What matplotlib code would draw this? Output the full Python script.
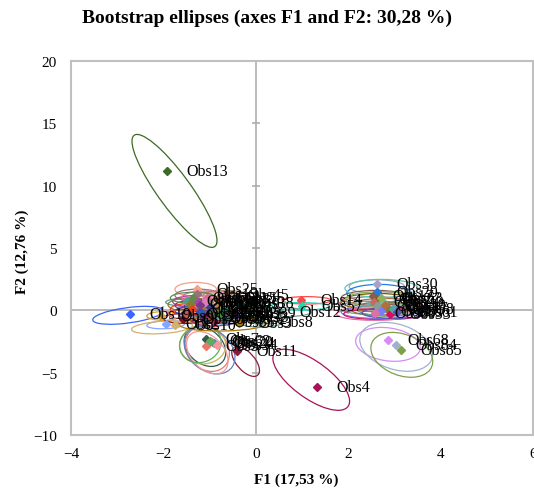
import numpy as np
import matplotlib.pyplot as plt
from matplotlib.patches import Ellipse

plt.rcParams['font.family'] = ['Liberation Serif', 'DejaVu Serif']

# observations: marker position
obs = ['Obs13', 'Obs4', 'Obs68', 'Obs84', 'Obs85', 'Obs11',
       'Obs7', 'Obs5', 'Obs70', 'Obs24', 'Obs34', 'Obs62',
       'Obs19', 'Obs2', 'Obs10', 'Obs9',
       'Obs25', 'Obs15', 'Obs16', 'Obs18', 'Obs21', 'Obs22', 'Obs23', 'Obs26',
       'Obs28', 'Obs31', 'Obs32', 'Obs33', 'Obs35', 'Obs36', 'Obs38', 'Obs39',
       'Obs41', 'Obs42', 'Obs43', 'Obs45',
       'Obs46', 'Obs48', 'Obs49', 'Obs51', 'Obs52', 'Obs54', 'Obs55', 'Obs56',
       'Obs3', 'Obs12', 'Obs8', 'Obs14', 'Obs57',
       'Obs30', 'Obs20', 'Obs17', 'Obs27', 'Obs37', 'Obs40', 'Obs44', 'Obs47',
       'Obs50', 'Obs53', 'Obs58', 'Obs59', 'Obs60', 'Obs61', 'Obs63']
f1 = [-1.93, 1.32, 2.86, 3.03, 3.14, -0.41,
      -1.08, -1.08, -0.95, -0.90, -0.85, -1.00,
      -2.73, -1.95, -1.75, -2.05,
      -1.28, -1.27, -1.49, -1.26, -1.43, -1.39, -1.15, -1.58,
      -1.00, -0.85, -0.70, -0.60, -0.90, -1.20, -0.50, -0.45,
      -1.05, -0.75, -1.50, -0.60,
      -1.10, -0.95, -0.80, -1.20, -0.65, -1.00, -0.70, -1.35,
      -0.37, 0.52, 0.10, 0.97, 0.99,
      2.62, 2.62, 2.53, 2.66, 2.55, 2.75, 2.62, 2.84,
      2.70, 2.90, 2.96, 2.80, 2.58, 3.05, 2.72]
f2 = [11.15, -6.17, -2.40, -2.80, -3.20, -3.30,
      -2.30, -2.85, -2.55, -2.65, -2.75, -2.45,
      -0.30, -1.10, -1.20, -0.45,
      1.68, 1.28, 0.72, 0.64, 0.48, 0.08, -0.48, -0.72,
      0.30, 0.90, 0.20, -0.50, -0.90, -0.10, 0.60, -0.20,
      1.00, -0.30, -0.30, 1.20,
      0.70, -0.20, 0.50, 0.40, -0.70, -0.60, 0.95, 1.00,
      -1.05, -0.16, -0.95, 0.80, 0.32,
      2.08, 1.44, 1.12, 0.88, 0.64, 0.64, 0.32, 0.16,
      -0.08, -0.32, 0.08, 0.45, -0.25, -0.15, 0.95]

# bootstrap ellipses: centre, half extents and correlation
ell_x = [-1.76, 1.20, 2.86, 3.04, 3.16, -0.22,
         -1.10, -1.05, -1.15, -1.00, -1.05, -1.20,
         -2.77, -1.95, -2.03, -2.00,
         -1.30, -1.25, -1.55, -1.25, -1.40, -1.40, -1.10, -1.55,
         -0.95, -0.85, -0.50, -0.60, -0.90, -1.20, -0.50, -0.45,
         -1.05, -0.75, -1.50, -0.65,
         -1.10, -0.95, -0.80, -1.20, -0.65, -1.00, -0.70, -1.35,
         -0.71, 0.30, 0.10, 1.10, 0.95,
         2.62, 2.67, 2.60, 2.65, 2.55, 2.72, 2.60, 2.80,
         2.65, 2.75, 2.90, 2.78, 2.55, 3.00, 2.70]
ell_y = [9.58, -5.57, -2.73, -2.93, -3.57, -4.10,
         -2.90, -3.10, -2.80, -3.20, -3.40, -2.70,
         -0.40, -1.15, -1.37, -0.45,
         1.68, 1.20, 0.65, 0.70, 0.45, 0.10, -0.40, -0.65,
         0.30, 0.95, 0.15, -0.45, -0.80, -0.05, 0.55, -0.20,
         1.05, -0.30, -0.30, 1.15,
         0.70, -0.20, 0.50, 0.40, -0.70, -0.60, 0.95, 1.00,
         -1.10, -0.16, -0.90, 0.80, 0.32,
         1.90, 1.36, 1.00, 0.70, 0.50, 1.76, 0.20, 0.10,
         -0.15, -0.30, 0.05, 0.40, -0.30, -0.20, 0.90]
ell_sx = [0.92, 0.83, 0.70, 0.79, 0.67, 0.30,
          0.45, 0.48, 0.50, 0.55, 0.45, 0.45,
          0.76, 0.41, 0.66, 0.36,
          0.45, 0.50, 0.40, 0.55, 0.50, 0.45, 0.55, 0.45,
          0.60, 0.55, 0.80, 0.50, 0.50, 0.55, 0.50, 0.45,
          0.55, 0.50, 0.40, 0.50,
          0.50, 0.45, 0.50, 0.55, 0.45, 0.50, 0.45, 0.50,
          0.94, 0.90, 0.50, 0.53, 0.65,
          0.60, 0.70, 0.75, 0.80, 0.75, 0.79, 0.80, 0.75,
          0.80, 0.85, 0.70, 0.75, 0.80, 0.70, 0.75]
ell_sy = [4.53, 2.45, 1.36, 1.96, 1.80, 1.20,
          1.60, 1.80, 1.50, 1.90, 1.70, 1.50,
          0.72, 0.33, 0.52, 0.35,
          0.56, 0.50, 0.30, 0.50, 0.55, 0.45, 0.50, 0.40,
          0.50, 0.55, 0.35, 0.45, 0.45, 0.40, 0.50, 0.45,
          0.50, 0.40, 0.40, 0.45,
          0.45, 0.40, 0.50, 0.45, 0.40, 0.45, 0.50, 0.45,
          0.56, 0.40, 0.45, 0.30, 0.30,
          0.55, 0.72, 0.60, 0.65, 0.60, 0.72, 0.55, 0.55,
          0.50, 0.45, 0.50, 0.55, 0.50, 0.45, 0.60]
ell_r = [-0.88, -0.70, -0.20, -0.30, -0.30, -0.60,
         -0.30, -0.20, 0.00, -0.30, -0.40, 0.10,
         0.50, 0.20, 0.30, 0.00,
         0, 0, 0, 0, 0, 0, 0, 0,
         0, 0, 0, 0, 0, 0, 0, 0,
         0, 0, 0, 0,
         0, 0, 0, 0, 0, 0, 0, 0,
         0.10, 0, 0, 0, 0,
         0, 0, 0, 0, 0, 0, 0, 0,
         0, 0, 0, 0, 0, 0, 0]
colors = ['#3d6b25', '#a8125a', '#d88cf4', '#9fb3c8', '#7ea04a', '#8c1a36',
          '#34594a', '#e8786a', '#c8b850', '#5f80c8', '#f09aa0', '#5cae5c',
          '#3a66ff', '#86a6ff', '#d4b070', '#d8a030',
          '#f4a08a', '#9c6f80', '#4fa088', '#b03cb0', '#8a7a30', '#e8401c', '#5a1e5a', '#8b0a14',
          '#3c3c90', '#c8762e', '#2aa8a0', '#6e4a2a', '#b8305e', '#3456a8', '#6a7a1e', '#8e5ec8',
          '#d86896', '#3e8a3e', '#c85858', '#a88a6a',
          '#e07cb4', '#4a6a5a', '#b88a2a', '#7a3a8a', '#2a6ea0', '#a04040', '#e0a0b0', '#608a4a',
          '#a6780e', '#7f9c94', '#6aa08a', '#ff4a4a', '#22d6b4',
          '#a9a2c2', '#1c7fe8', '#8a5c4c', '#7a5a0a', '#c46a60', '#5cc8b0', '#8a9a9a', '#7a7a3a',
          '#7c7cf4', '#d4105e', '#5aa0a8', '#b07040', '#e070a0', '#6050b0', '#90b060']

xticks = [-4, -2, 0, 2, 4, 6]
yticks = [-10, -5, 0, 5, 10, 15, 20]


def ellipse_shape(sx, sy, r):
    cov = np.array([[sx**2, r*sx*sy], [r*sx*sy, sy**2]])
    vals, vecs = np.linalg.eigh(cov)
    ang = np.degrees(np.arctan2(vecs[1, 1], vecs[0, 1]))
    return 2*np.sqrt(vals[1]), 2*np.sqrt(vals[0]), ang


fig = plt.figure(figsize=(5.34, 4.89), dpi=100)
ax = fig.add_axes([71/534, 53/489, 462/534, 374/489])
ax.set_xlim(-4, 6)
ax.set_ylim(-10, 20)
ax.set_xticks(xticks)
ax.set_yticks(yticks)
ax.tick_params(length=0, labelsize=11)
ax.tick_params(axis='x', pad=9)
ax.tick_params(axis='y', pad=10)
for sp in ax.spines.values():
    sp.set_color('#c0c0c0')
    sp.set_linewidth(1.5)

gray = '#a8a8a8'
ax.axhline(0, color=gray, lw=1.1, zorder=1)
ax.axvline(0, color=gray, lw=1.1, zorder=1)
ax.plot(np.zeros(len(yticks)), yticks, ls='none', marker='_', ms=6, mew=1.1, color=gray, clip_on=False)
ax.plot(xticks, np.zeros(len(xticks)), ls='none', marker='|', ms=6, mew=1.1, color=gray, clip_on=False)

for i in range(len(obs)):
    w, h, a = ellipse_shape(ell_sx[i], ell_sy[i], ell_r[i])
    ax.add_patch(Ellipse((ell_x[i], ell_y[i]), w, h, angle=a, fill=False,
                         edgecolor=colors[i], lw=0.9, zorder=2))

for i in range(len(obs)):
    ax.plot(f1[i], f2[i], marker='D', ms=4.5, color=colors[i], ls='none', zorder=3)

for i in range(len(obs)):
    ax.annotate(obs[i], (f1[i], f2[i]), xytext=(14, 0), textcoords='offset points',
                va='center', ha='left', fontsize=11.5, zorder=4)

fig.text(0.5, 1 - 18/489, 'Bootstrap ellipses (axes F1 and F2: 30,28 %)',
         ha='center', va='center', fontsize=14, fontweight='bold')
fig.text(296/534, 1 - 480/489, 'F1 (17,53 %)', ha='center', va='center',
         fontsize=11, fontweight='bold')
fig.text(22/534, 1 - 252/489, 'F2 (12,76 %)', ha='center', va='center',
         rotation=90, fontsize=11, fontweight='bold')

fig.savefig('out.png', dpi=100)
